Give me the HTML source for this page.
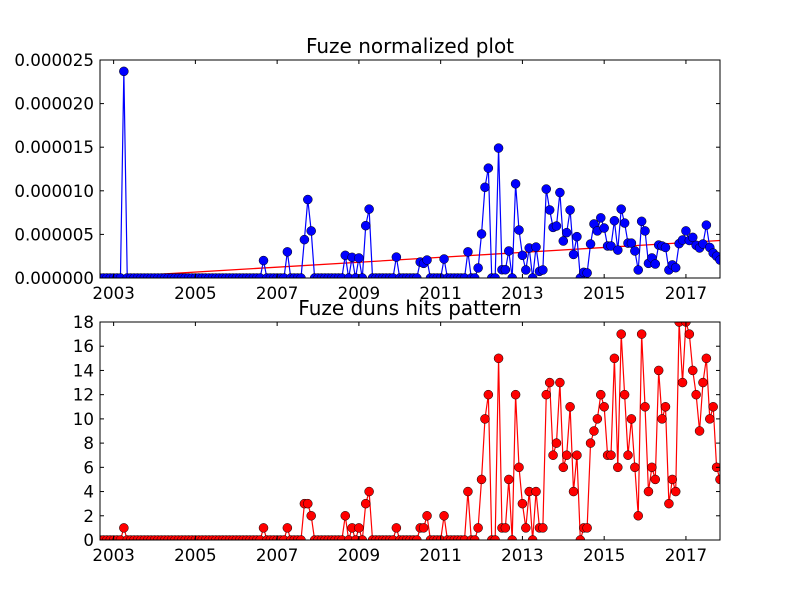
<!DOCTYPE html>
<html><head><meta charset="utf-8"><style>
html,body{margin:0;padding:0;background:#fff}
svg{display:block;font-family:"DejaVu Sans","Liberation Sans",sans-serif}
</style></head><body>
<svg id="chart" width="800" height="600" viewBox="0 0 800 600" xmlns="http://www.w3.org/2000/svg">
<rect width="800" height="600" fill="#fff"/>
<defs>
<clipPath id="clipTop"><rect x="100" y="60" width="620" height="218"/></clipPath>
<clipPath id="clipBot"><rect x="100" y="322" width="620" height="218"/></clipPath>
</defs>
<g id="top"></g>
<g id="bot"></g>
</svg>
<script>
const startYear = 2002, startMonth = 9;
const normValues = [
0,0,0,0,
0,0,0,23.7,0,0,0,0,0,0,0,0,
0,0,0,0,0,0,0,0,0,0,0,0,
0,0,0,0,0,0,0,0,0,0,0,0,
0,0,0,0,0,0,0,0,2.0,0,0,0,
0,0,0,3.0,0,0,0,0,4.4,9.0,5.4,0,
0,0,0,0,0,0,0,0,2.6,0,2.37,0,
2.3,0,6.0,7.9,0,0,0,0,0,0,0,2.4,
0,0,0,0,0,0,1.83,1.68,2.06,0,0,0,
0,2.18,0,0,0,0,0,0,3.0,0,0,1.15,
5.05,10.4,12.6,0,0,14.9,0.95,0.95,3.1,0,10.8,5.5,
2.6,0.92,3.44,0,3.55,0.76,0.92,10.2,7.8,5.8,5.96,9.8,
4.24,5.2,7.8,2.7,4.74,0,0.65,0.58,3.9,6.2,5.4,6.9,
5.73,3.67,3.67,6.57,3.2,7.9,6.3,4.0,4.0,3.1,0.92,6.5,
5.4,1.68,2.3,1.6,3.78,3.67,3.5,0.92,1.5,1.18,3.94,4.36,
5.4,4.3,4.66,3.75,3.44,3.9,6.07,3.5,2.86,2.5,2.06
];
const hitValues = [
0,0,0,0,
0,0,0,1,0,0,0,0,0,0,0,0,
0,0,0,0,0,0,0,0,0,0,0,0,
0,0,0,0,0,0,0,0,0,0,0,0,
0,0,0,0,0,0,0,0,1,0,0,0,
0,0,0,1,0,0,0,0,3,3,2,0,
0,0,0,0,0,0,0,0,2,0,1,0,
1,0,3,4,0,0,0,0,0,0,0,1,
0,0,0,0,0,0,1,1,2,0,0,0,
0,2,0,0,0,0,0,0,4,0,0,1,
5,10,12,0,0,15,1,1,5,0,12,6,
3,1,4,0,4,1,1,12,13,7,8,13,
6,7,11,4,7,0,1,1,8,9,10,12,
11,7,7,15,6,17,12,7,10,6,2,17,
11,4,6,5,14,10,11,3,5,4,18,13,
18,17,14,12,9,13,15,10,11,6,5
];
const trendValues = [0.02, 4.3];
const xTickYears = [2003,2005,2007,2009,2011,2013,2015,2017];
const topTicks = [0,5,10,15,20,25];
const topTickLabels = ["0.000000","0.000005","0.000010","0.000015","0.000020","0.000025"];
const botTicks = [0,2,4,6,8,10,12,14,16,18];

const NS = "http://www.w3.org/2000/svg";
const X0 = 100, X1 = 720;
const n = normValues.length;
const tStart = startYear + (startMonth-1)/12;
const tEnd = tStart + (n-1)/12;
function xs(t){ return X0 + (t - tStart)/(tEnd - tStart)*(X1-X0); }
function mk(tag, attrs, parent){
  const e = document.createElementNS(NS, tag);
  for (const k in attrs) e.setAttribute(k, attrs[k]);
  parent.appendChild(e); return e;
}
function drawAxes(g, Y0, Y1, ymax, ticks, labels, vals, color, title, clipId, trend, nm){
  const ys = v => Y1 - v/ymax*(Y1-Y0);
  const tt = mk('text',{x:410,y:Y0-7,'text-anchor':'middle','font-size':'20'},g);
  
  
  tt.textContent = title;
  const data = mk('g',{'clip-path':'url(#'+clipId+')'},g);
  
  
  if (trend){
    const tl = mk('line',{x1:xs(tStart),y1:ys(trend[0]),x2:xs(tEnd),y2:ys(trend[1]),stroke:'#ff0000','stroke-width':1.3},data);
    
    
  }
  let d = '';
  vals.forEach((v,i)=>{ d += (i?'L':'M') + xs(tStart+i/12).toFixed(2)+','+ys(v).toFixed(2); });
  const ln = mk('path',{d:d,fill:'none',stroke:color,'stroke-width':1.2},data);
  
  
  vals.forEach((v,i)=>{
    const c = mk('circle',{cx:xs(tStart+i/12).toFixed(2),cy:ys(v).toFixed(2),r:4.5,fill:color,stroke:'#000','stroke-width':0.5},data);
    
    
  });
  const fr = mk('rect',{x:X0,y:Y0,width:X1-X0,height:Y1-Y0,fill:'none',stroke:'#000','stroke-width':1},g);
  
  
  ticks.forEach((v,i)=>{
    const y = ys(v);
    mk('line',{x1:X0,y1:y,x2:X0+4,y2:y,stroke:'#000'},g);
    mk('line',{x1:X1,y1:y,x2:X1-4,y2:y,stroke:'#000'},g);
    const t = mk('text',{x:X0-6,y:y+6,'text-anchor':'end','font-size':'16.7'},g);
    
    
    t.textContent = labels[i];
  });
  xTickYears.forEach(yr=>{
    const x = xs(yr);
    mk('line',{x1:x,y1:Y1,x2:x,y2:Y1-4,stroke:'#000'},g);
    mk('line',{x1:x,y1:Y0,x2:x,y2:Y0+4,stroke:'#000'},g);
    const t = mk('text',{x:x,y:Y1+21,'text-anchor':'middle','font-size':'16.7'},g);
    
    
    t.textContent = String(yr);
  });
}
drawAxes(document.getElementById('top'),60,278,25,topTicks,topTickLabels,normValues,'#0000ff','Fuze normalized plot','clipTop',trendValues,'normalized');
drawAxes(document.getElementById('bot'),322,540,18,botTicks,botTicks.map(String),hitValues,'#ff0000','Fuze duns hits pattern','clipBot',null,'hits');
</script>
</body></html>
